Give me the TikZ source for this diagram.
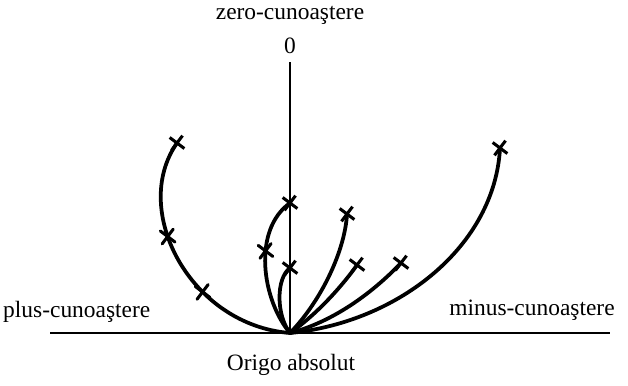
\documentclass[tikz,border=0pt]{standalone}
\usepackage{fontspec}
\setmainfont{Liberation Serif}
\usetikzlibrary{shapes.misc}

\begin{document}
\begin{tikzpicture}[x=0.03cm, y=-0.03cm,
	every node/.style={font=\fontsize{20}{24}\selectfont},
	mark x/.style={cross out, draw, line width=2.6pt, minimum size=8.5pt, inner sep=0pt, rotate=8},
	curve/.style={line width=3.2pt, line cap=round}]
				\useasboundingbox (0,0) rectangle (628,385);
				
				% Origin and axes
				\coordinate (o) at (290,333);
				\coordinate (bl) at (50,333);
				\coordinate (br) at (610,333);
				\coordinate (top) at (290,62);
				\draw[line width=2.2pt] (bl) -- (br);
				\draw[line width=1.6pt] (o) -- (top);
				
				% Labels
				\node (zero) at (290,15) {zero-cunoaştere};
				\node (nul) at (290,46) {0};
				\node[anchor=west, inner sep=0pt] (plus) at (3,312) {plus-cunoaştere};
				\node (minus) at (532,310) {minus-cunoaştere};
				\node (origo) at (291,365) {Origo absolut};
				
				% End marks
				\node[mark x] (l1) at (177,143) {};
				\node[mark x] (v1) at (290,203) {};
				\node[mark x] (v2) at (290,268) {};
				\node[mark x] (r1) at (347,214) {};
				\node[mark x] (r2) at (357,265) {};
				\node[mark x] (r3) at (401,263) {};
				\node[mark x] (r4) at (500,148) {};
				
				% Left arc
				\draw[curve] (o) .. controls (190,325) and (130,210) .. (l1.center)
				node[mark x, pos=0.35] (l2) {}
				node[mark x, pos=0.6] (l3) {};
				
				% Loops on the vertical
				\draw[curve] (o) .. controls (262,300) and (252,230) .. (v1.center)
				node[mark x, pos=0.6] (v3) {};
				\draw[curve] (o) .. controls (276,315) and (276,278) .. (v2.center);
				
				% Right arcs
				\draw[curve] (o) .. controls (322,300) and (345,250) .. (r1.center);
				\draw[curve] (o) .. controls (320,312) and (345,282) .. (r2.center);
				\draw[curve] (o) .. controls (340,320) and (380,285) .. (r3.center);
				\draw[curve] (o) .. controls (400,322) and (495,245) .. (r4.center);
			\end{tikzpicture}
\end{document}
